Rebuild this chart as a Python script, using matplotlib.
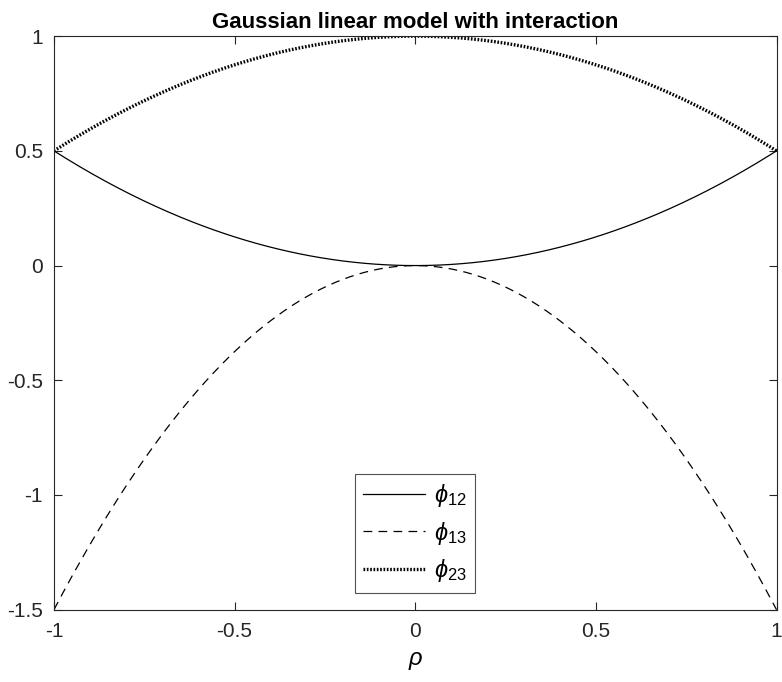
import numpy as np
import matplotlib.pyplot as plt

plt.rcParams['font.family'] = ['Liberation Sans', 'DejaVu Sans']
plt.rcParams['mathtext.fontset'] = 'custom'
plt.rcParams['mathtext.it'] = 'Liberation Sans:italic'
plt.rcParams['mathtext.rm'] = 'Liberation Sans'

# values, rho in steps of 0.1
rho = [-1.0, -0.9, -0.8, -0.7, -0.6, -0.5, -0.4, -0.3, -0.2, -0.1, 0.0,
       0.1, 0.2, 0.3, 0.4, 0.5, 0.6, 0.7, 0.8, 0.9, 1.0]
phi12 = [0.5, 0.405, 0.32, 0.245, 0.18, 0.125, 0.08, 0.045, 0.02, 0.005, 0.0,
         0.005, 0.02, 0.045, 0.08, 0.125, 0.18, 0.245, 0.32, 0.405, 0.5]
phi13 = [-1.5, -1.215, -0.96, -0.735, -0.54, -0.375, -0.24, -0.135, -0.06, -0.015, 0.0,
         -0.015, -0.06, -0.135, -0.24, -0.375, -0.54, -0.735, -0.96, -1.215, -1.5]
phi23 = [0.5, 0.595, 0.68, 0.755, 0.82, 0.875, 0.92, 0.955, 0.98, 0.995, 1.0,
         0.995, 0.98, 0.955, 0.92, 0.875, 0.82, 0.755, 0.68, 0.595, 0.5]

fig = plt.figure(figsize=(7.82, 6.82), dpi=100)
ax = fig.add_axes([0.069, 0.106, 0.924, 0.841])

# smooth the read points with a quadratic fit for drawing
xs = np.linspace(-1, 1, 401)
def smooth(y):
    return np.polyval(np.polyfit(rho, y, 2), xs)

ax.plot(xs, smooth(phi12), color='black', lw=0.9, label=r'$\phi_{12}$')
ax.plot(xs, smooth(phi13), color='black', lw=0.9, ls=(0, (7, 5)), label=r'$\phi_{13}$')
ax.plot(xs, smooth(phi23), color='black', lw=2.4, ls=(0, (0.5, 0.5)), label=r'$\phi_{23}$')

ax.set_xlim(-1, 1)
ax.set_ylim(-1.5, 1)
ax.set_xticks([-1, -0.5, 0, 0.5, 1])
ax.set_xticklabels(['-1', '-0.5', '0', '0.5', '1'])
ax.set_yticks([-1.5, -1, -0.5, 0, 0.5, 1])
ax.set_yticklabels(['-1.5', '-1', '-0.5', '0', '0.5', '1'])
ax.tick_params(direction='in', top=True, right=True, labelsize=15, length=6, width=0.8,
               colors='#262626')
ax.tick_params(axis='y', pad=8)
ax.tick_params(axis='x', pad=9)
for s in ax.spines.values():
    s.set_color('#262626')
    s.set_linewidth(0.8)

ax.set_xlabel(r'$\rho$', fontsize=17, labelpad=6)
ax.set_title('Gaussian linear model with interaction', fontsize=16, fontweight='bold', pad=6)

leg = ax.legend(loc='lower center', bbox_to_anchor=(0.5, 0.03), fontsize=17,
                fancybox=False, edgecolor='#262626', handlelength=2.6,
                borderpad=0.35, labelspacing=0.45, handletextpad=0.4, borderaxespad=0)
leg.get_frame().set_linewidth(0.8)

fig.savefig('out.png', dpi=100)
